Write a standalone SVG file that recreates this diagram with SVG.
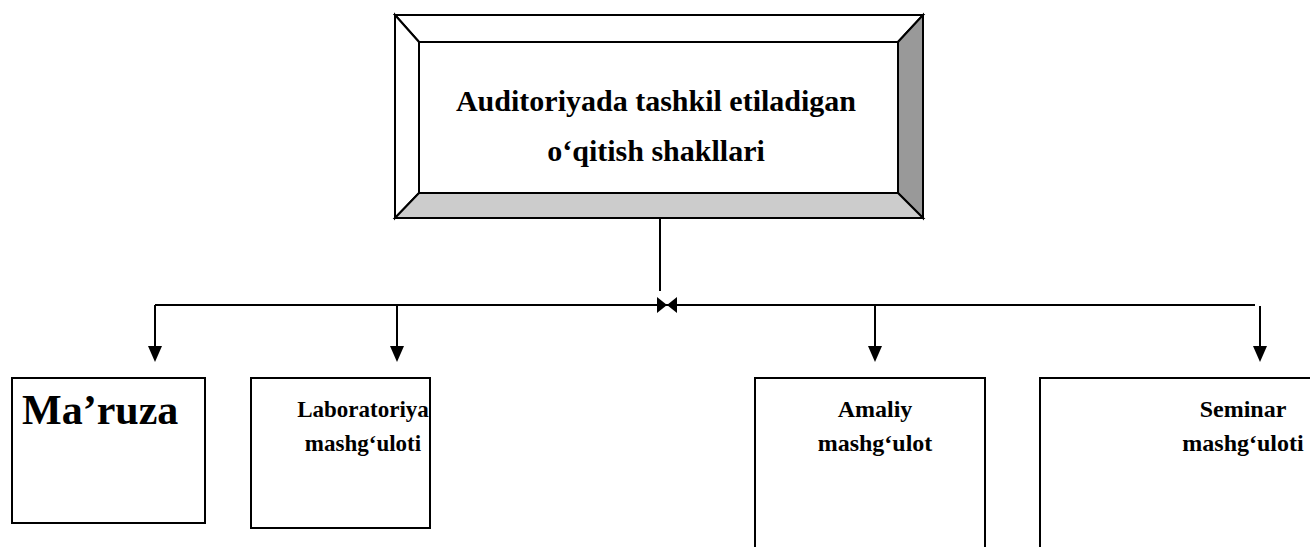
<svg xmlns="http://www.w3.org/2000/svg" width="1310" height="547" viewBox="0 0 1310 547">
<defs>
<style>
.t{font-family:"Liberation Serif","Times New Roman",serif;font-weight:bold;fill:#000;text-anchor:middle}
.box{fill:#fff;stroke:#000;stroke-width:2}
.ln{fill:none;stroke:#000;stroke-width:2}
.bev{stroke:#000;stroke-width:2;stroke-linejoin:miter}
.ah{fill:#000}
</style>
</defs>
<rect width="1310" height="547" fill="#fff"/>
<g id="root">
<polygon class="bev" points="395,15 923,15 898,42 419,42" fill="#fff"/>
<polygon class="bev" points="395,15 419,42 419,193 395,218" fill="#fff"/>
<polygon class="bev" points="923,15 923,218 898,193 898,42" fill="#999"/>
<polygon class="bev" points="395,218 419,193 898,193 923,218" fill="#ccc"/>
<rect x="419" y="42" width="479" height="151" fill="#fff" stroke="#000" stroke-width="2"/>
<text class="t" x="656" y="111" font-size="30">Auditoriyada tashkil etiladigan</text>
<text class="t" x="656" y="161" font-size="30">o‘qitish shakllari</text>
</g>
<g id="connectors">
<line class="ln" x1="660" y1="218" x2="660" y2="291"/>
<line class="ln" x1="155" y1="305" x2="1255" y2="305"/>
<path class="ah" d="M657,297 L667,305 L657,313 Z M677,297 L667,305 L677,313 Z"/>
<line class="ln" x1="155" y1="305" x2="155" y2="350"/>
<polygon class="ah" points="148,346 162,346 155,362"/>
<line class="ln" x1="397" y1="305" x2="397" y2="350"/>
<polygon class="ah" points="390,346 404,346 397,362"/>
<line class="ln" x1="875" y1="305" x2="875" y2="350"/>
<polygon class="ah" points="868,346 882,346 875,362"/>
<line class="ln" x1="1260" y1="306" x2="1260" y2="350"/>
<polygon class="ah" points="1253,346 1267,346 1260,362"/>
</g>
<g id="maruza">
<rect class="box" x="12" y="378" width="193" height="145"/>
<text x="22" y="424" font-size="42" font-family="Liberation Serif, Times New Roman, serif" font-weight="bold">Ma’ruza</text>
</g>
<g id="laboratoriya">
<rect class="box" x="251" y="378" width="179" height="150"/>
<text class="t" x="363" y="417" font-size="23">Laboratoriya</text>
<text class="t" x="363" y="451" font-size="23">mashg‘uloti</text>
</g>
<g id="amaliy">
<rect class="box" x="755" y="378" width="230" height="200"/>
<text class="t" x="875" y="417" font-size="24">Amaliy</text>
<text class="t" x="875" y="451" font-size="24">mashg‘ulot</text>
</g>
<g id="seminar">
<rect class="box" x="1040" y="378" width="300" height="200"/>
<text class="t" x="1243" y="417" font-size="24">Seminar</text>
<text class="t" x="1243" y="451" font-size="24">mashg‘uloti</text>
</g>
</svg>
